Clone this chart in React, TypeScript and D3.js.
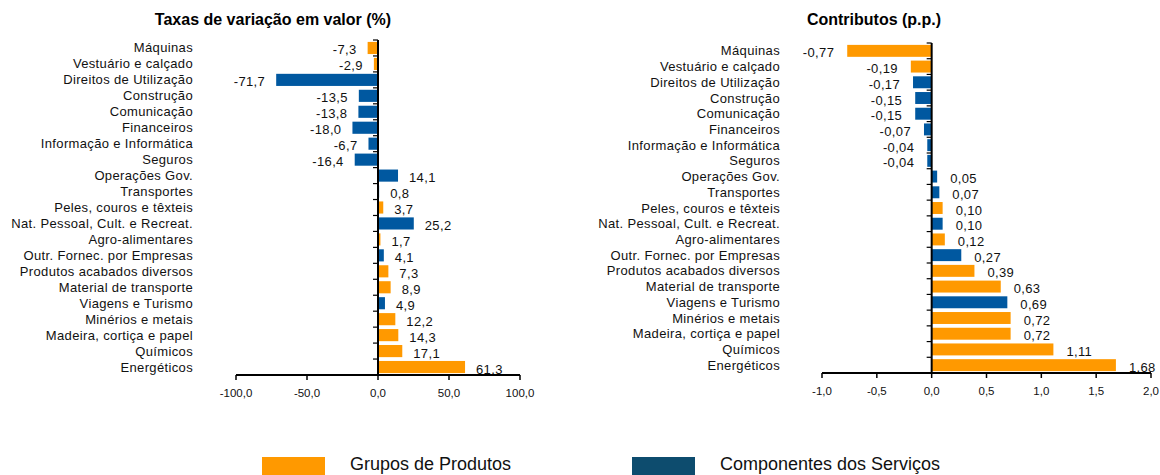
import * as d3 from "d3";
import React from "react";

const categories = [
  "Máquinas", "Vestuário e calçado", "Direitos de Utilização", "Construção",
  "Comunicação", "Financeiros", "Informação e Informática", "Seguros",
  "Operações Gov.", "Transportes", "Peles, couros e têxteis",
  "Nat. Pessoal, Cult. e Recreat.", "Agro-alimentares", "Outr. Fornec. por Empresas",
  "Produtos acabados diversos", "Material de transporte", "Viagens e Turismo",
  "Minérios e metais", "Madeira, cortiça e papel", "Químicos", "Energéticos",
];

// P = Grupos de Produtos, S = Componentes dos Serviços
const groups = [
  "P", "P", "S", "S", "S", "S", "S", "S", "S", "S", "P",
  "S", "P", "S", "P", "P", "S", "P", "P", "P", "P",
];

const taxas = [
  -7.3, -2.9, -71.7, -13.5, -13.8, -18.0, -6.7, -16.4, 14.1, 0.8, 3.7,
  25.2, 1.7, 4.1, 7.3, 8.9, 4.9, 12.2, 14.3, 17.1, 61.3,
];

const contributos = [
  -0.77, -0.19, -0.17, -0.15, -0.15, -0.07, -0.04, -0.04, 0.05, 0.07, 0.10,
  0.10, 0.12, 0.27, 0.39, 0.63, 0.69, 0.72, 0.72, 1.11, 1.68,
];

const taxasTicks = [-100, -50, 0, 50, 100];
const contribTicks = [-1, -0.5, 0, 0.5, 1, 1.5, 2];

const legendLabels = ["Grupos de Produtos", "Componentes dos Serviços"];

const ORANGE = "#FF9900";
const BLUE = "#0058A0";
const LEGEND_BLUE = "#0D4C6E";
const FONT = "'Liberation Sans', Arial, sans-serif";

const comma = (v: number, digits: number) => v.toFixed(digits).replace(".", ",");

interface PanelProps {
  title: string;
  titleX: number;
  values: number[];
  domain: [number, number];
  ticks: number[];
  x0: number;
  x1: number;
  top: number;
  bottom: number;
  labelX: number;
  labelDigits: number;
  gap: number;
}

function Panel({ title, titleX, values, domain, ticks, x0, x1, top, bottom, labelX, labelDigits, gap }: PanelProps) {
  const x = d3.scaleLinear().domain(domain).range([x0, x1]);
  const y = d3.scaleBand<string>().domain(categories).range([top, bottom]).paddingInner(0.24).paddingOuter(0.12);
  const step = (bottom - top) / categories.length;
  const zero = x(0);

  return (
    <g>
      <text x={titleX} y={25} textAnchor="middle" fontSize={16} fontWeight="bold" fill="#000">
        {title}
      </text>

      {categories.map((c, i) => {
        const v = values[i];
        const bx = Math.min(x(v), zero);
        const w = Math.abs(x(v) - zero);
        const cy = (y(c) as number) + y.bandwidth() / 2;
        return (
          <g key={c}>
            <rect x={bx} y={y(c)} width={w} height={y.bandwidth()} fill={groups[i] === "P" ? ORANGE : BLUE} />
            <text x={labelX} y={cy + 4.5} textAnchor="end" fontSize={13} letterSpacing={0.35} fill="#111">
              {c}
            </text>
            <text
              x={v < 0 ? x(v) - gap : x(v) + gap}
              y={cy + 6.5}
              textAnchor={v < 0 ? "end" : "start"}
              fontSize={13}
              letterSpacing={0.35}
              fill="#111"
            >
              {comma(v, labelDigits)}
            </text>
          </g>
        );
      })}

      {/* vertical axis with ticks at category boundaries */}
      <line x1={zero} x2={zero} y1={top} y2={bottom} stroke="#000" strokeWidth={2} />
      {d3.range(categories.length + 1).map((k) => (
        <line key={k} x1={zero - 5} x2={zero} y1={top + k * step} y2={top + k * step} stroke="#000" strokeWidth={1.2} />
      ))}

      {/* horizontal axis */}
      <line x1={x0} x2={x1} y1={bottom} y2={bottom} stroke="#000" strokeWidth={2} />
      {ticks.map((t) => (
        <g key={t}>
          <line x1={x(t)} x2={x(t)} y1={bottom} y2={bottom + 5} stroke="#000" strokeWidth={1.5} />
          <text x={x(t)} y={bottom + 22} textAnchor="middle" fontSize={11.5} fill="#111">
            {comma(t, 1)}
          </text>
        </g>
      ))}
    </g>
  );
}

export default function App() {
  const width = 1160;
  const height = 475;

  const legendX = [262, 632];
  const legendColors = [ORANGE, LEGEND_BLUE];

  return (
    <svg
      width={width}
      height={height}
      style={{ position: "absolute", left: 0, top: 0, background: "#fff", fontFamily: FONT }}
    >
      <Panel
        title="Taxas de variação em valor (%)"
        titleX={273}
        values={taxas}
        domain={[-100, 100]}
        ticks={taxasTicks}
        x0={236}
        x1={520}
        top={40}
        bottom={375}
        labelX={193}
        labelDigits={1}
        gap={11}
      />
      <Panel
        title="Contributos (p.p.)"
        titleX={874}
        values={contributos}
        domain={[-1, 2]}
        ticks={contribTicks}
        x0={822}
        x1={1151}
        top={43}
        bottom={373}
        labelX={780}
        labelDigits={2}
        gap={13}
      />

      {legendLabels.map((l, i) => (
        <g key={l}>
          <rect x={legendX[i]} y={457} width={63} height={20} fill={legendColors[i]} />
          <text x={legendX[i] + 88} y={470} fontSize={18} fill="#111">
            {l}
          </text>
        </g>
      ))}
    </svg>
  );
}
